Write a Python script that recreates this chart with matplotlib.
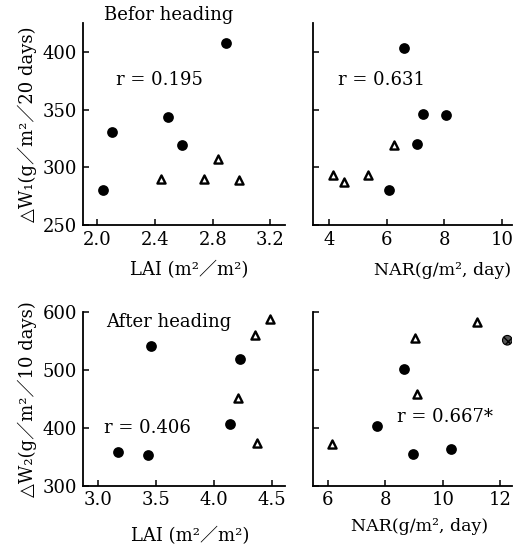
import matplotlib
matplotlib.use("Agg")
import matplotlib.pyplot as plt

plt.rcParams['font.family'] = ['DejaVu Serif', 'DejaVu Sans', 'Noto Sans CJK JP']

# ---- data ----
# Before heading, vs LAI
lai1_fill = [2.04, 2.10, 2.49, 2.59, 2.89]
w1_lai_fill = [280, 331, 344, 319, 408]
lai1_tri = [2.44, 2.74, 2.84, 2.98]
w1_lai_tri = [290, 290, 307, 289]

# Before heading, vs NAR
nar1_fill = [6.6, 7.26, 8.06, 7.05, 6.08]
w1_nar_fill = [403, 346, 345, 320, 280]
nar1_tri = [6.25, 4.14, 4.52, 5.35]
w1_nar_tri = [319, 293, 287, 293]

# After heading, vs LAI
lai2_fill = [3.17, 3.43, 3.46, 4.14, 4.22]
w2_lai_fill = [359, 353, 541, 406, 518]
lai2_tri = [4.48, 4.35, 4.21, 4.37]
w2_lai_tri = [588, 560, 452, 374]

# After heading, vs NAR
nar2_fill = [8.67, 7.70, 8.95, 10.27]
w2_nar_fill = [502, 403, 355, 363]
nar2_tri = [11.2, 9.02, 9.1, 6.17]
w2_nar_tri = [583, 555, 458, 372]
nar2_special = [12.24]
w2_nar_special = [551]

r_texts = ["r = 0.195", "r = 0.631", "r = 0.406", "r = 0.667*"]
ticks_w1 = [250, 300, 350, 400]
ticks_w2 = [300, 400, 500, 600]
ticks_lai1 = [2.0, 2.4, 2.8, 3.2]
ticks_nar1 = [4, 6, 8, 10]
ticks_lai2 = [3.0, 3.5, 4.0, 4.5]
ticks_nar2 = [6, 8, 10, 12]

FS = 13

fig = plt.figure(figsize=(5.15, 5.49), dpi=100)
ax1 = fig.add_axes([0.161, 0.590, 0.392, 0.368])
ax2 = fig.add_axes([0.608, 0.590, 0.386, 0.368])
ax3 = fig.add_axes([0.161, 0.115, 0.392, 0.317])
ax4 = fig.add_axes([0.608, 0.115, 0.386, 0.317])

def style(ax, xticks, yticks, xlim, ylim, ylabels=True, xfmt="{:.1f}"):
    for s in ['top', 'right']:
        ax.spines[s].set_visible(False)
    for s in ['left', 'bottom']:
        ax.spines[s].set_linewidth(1.3)
    ax.set_xlim(*xlim)
    ax.set_ylim(*ylim)
    ax.set_xticks(xticks)
    ax.set_xticklabels([xfmt.format(t) for t in xticks])
    ax.set_yticks(yticks)
    if ylabels:
        ax.set_yticklabels([str(t) for t in yticks])
    else:
        ax.set_yticklabels([])
    ax.tick_params(direction='in', length=4, width=1.1, labelsize=FS, pad=4)

def pts(ax, xf, yf, xt, yt):
    ax.scatter(xf, yf, s=60, c='black', marker='o', zorder=3, linewidths=0)
    ax.scatter(xt, yt, s=34, facecolors='white', edgecolors='black',
               marker='^', linewidths=1.7, zorder=3)

def xlab(ax, text, x, y, fs=FS):
    ax.text(x, y, text, transform=ax.transAxes, ha='center', va='center', fontsize=fs)

pts(ax1, lai1_fill, w1_lai_fill, lai1_tri, w1_lai_tri)
style(ax1, ticks_lai1, ticks_w1, (1.9, 3.3), (250, 425))
ax1.text(0.426, 1.04, "Befor heading", transform=ax1.transAxes, ha='center', va='center', fontsize=FS)
ax1.text(0.38, 0.718, r_texts[0], transform=ax1.transAxes, ha='center', va='center', fontsize=FS)
xlab(ax1, "LAI (m²／m²)", 0.525, -0.223)
ax1.set_ylabel("△W₁(g／m²／20 days)", fontsize=FS, labelpad=4)

pts(ax2, nar1_fill, w1_nar_fill, nar1_tri, w1_nar_tri)
style(ax2, ticks_nar1, ticks_w1, (3.45, 10.35), (250, 425), ylabels=False, xfmt="{:d}")
ax2.text(0.342, 0.718, r_texts[1], transform=ax2.transAxes, ha='center', va='center', fontsize=FS)
xlab(ax2, "NAR(g∕m², day)", 0.65, -0.223, fs=12.5)

pts(ax3, lai2_fill, w2_lai_fill, lai2_tri, w2_lai_tri)
style(ax3, ticks_lai2, ticks_w2, (2.87, 4.61), (300, 600))
ax3.text(0.426, 0.942, "After heading", transform=ax3.transAxes, ha='center', va='center', fontsize=FS)
ax3.text(0.322, 0.335, r_texts[2], transform=ax3.transAxes, ha='center', va='center', fontsize=FS)
xlab(ax3, "LAI (m²／m²)", 0.53, -0.287)
ax3.set_ylabel("△W₂(g／m²／10 days)", fontsize=FS, labelpad=4)

pts(ax4, nar2_fill, w2_nar_fill, nar2_tri, w2_nar_tri)
ax4.scatter(nar2_special, w2_nar_special, s=48, c='#555555', edgecolors='black',
            linewidths=0.8, hatch='xx', zorder=3)
style(ax4, ticks_nar2, ticks_w2, (5.5, 12.4), (300, 600), ylabels=False, xfmt="{:d}")
ax4.text(0.663, 0.397, r_texts[3], transform=ax4.transAxes, ha='center', va='center', fontsize=FS)
xlab(ax4, "NAR(g∕m², day)", 0.535, -0.236, fs=12.5)

fig.savefig("out.png", dpi=100)
